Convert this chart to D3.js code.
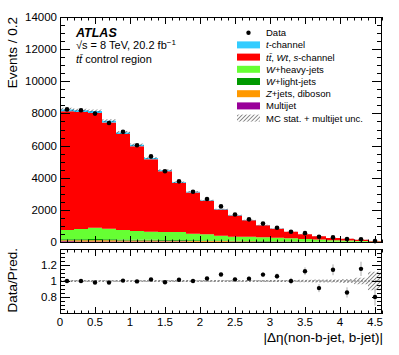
<!DOCTYPE html>
<html><head><meta charset="utf-8">
<script src="https://cdn.jsdelivr.net/npm/d3@7"></script>
<style>body{margin:0;background:#fff}svg{display:block}text{font-family:"Liberation Sans",Arial,Helvetica,sans-serif;fill:#000}</style>
</head><body><svg id="c" width="399" height="355"></svg>
<script>
// ---------------- data ----------------
const binLow = [0,0.2,0.4,0.6,0.8,1.0,1.2,1.4,1.6,1.8,2.0,2.2,2.4,2.6,2.8,3.0,3.2,3.4,3.6,3.8,4.0,4.2,4.4];
const binWidth = 0.2;
const dataCounts = [8250,8200,7990,7400,6855,6020,5325,4400,3775,3130,2680,2215,1715,1410,1145,890,640,550,328,285,180,167,56];
const tchannel  = [120,118,117,108,97,86,75,64,53,45,37,29,24,19,15,12,9,7,5,4,3,2,1];
const ttbar     = [7380,7272,7143,6612,5973,5284,4505,3786,3047,2565,2083,1626,1326,1021,755,558,401,293,205,136,117,83,39];
const wheavy    = [580,636,711,662,592,533,502,489,496,410,380,307,253,261,230,219,187,154,121,87,72,46,21];
const wlight    = [60,64,68,64,60,55,52,50,48,42,38,32,28,25,22,19,16,13,10,8,6,5,3];
const zjets     = [70,72,75,70,66,62,58,55,52,46,42,38,33,30,26,22,19,16,13,10,8,6,4];
const multijet  = [40,38,36,34,32,30,28,26,24,22,20,18,16,14,12,10,8,7,6,5,4,3,2];
const mcStatUnc = [99,98,98,91,82,73,63,54,45,38,31,25,20,16,13,10,8,7,7,5,5,6,8];
const xTickVals = [0,0.5,1,1.5,2,2.5,3,3.5,4,4.5];
const xTickLabels = ["0","0.5","1","1.5","2","2.5","3","3.5","4","4.5"];
const yTickVals = [0,2000,4000,6000,8000,10000,12000,14000];
const yTickLabels = ["0","2000","4000","6000","8000","10000","12000","14000"];
const rTickVals = [0.8,1,1.2];
const rTickLabels = ["0.8","1","1.2"];
const legendLabels = ["Data","t-channel","tt̄, Wt, s-channel","W+heavy-jets","W+light-jets","Z+jets, diboson","Multijet","MC stat. + multijet unc."];

// ---------------- layout ----------------
const L=60, R=382, MT=17, MB=242, RT=249, RB=313;
const svg = d3.select("#c");
const x = d3.scaleLinear().domain([0,4.6]).range([L,R]);
const y = d3.scaleLinear().domain([0,14000]).range([MB,MT]);
const yr = d3.scaleLinear().domain([0.6,1.4]).range([RB,RT]);

const colors = {tchannel:"#33ccff", ttbar:"#ff0000", wheavy:"#66ff33", wlight:"#009900", zjets:"#ff9900", multijet:"#990099"};
const keys = ["multijet","zjets","wlight","wheavy","ttbar","tchannel"];
const src = {multijet, zjets, wlight, wheavy, ttbar, tchannel};

const defs = svg.append("defs");
const pat = defs.append("pattern").attr("id","hatch").attr("patternUnits","userSpaceOnUse")
  .attr("width",2.8).attr("height",2.8).attr("patternTransform","rotate(45)");
pat.append("line").attr("x1",0).attr("y1",0).attr("x2",0).attr("y2",2.8).attr("stroke","#222").attr("stroke-width",1);
defs.append("clipPath").attr("id","cm").append("rect").attr("x",L).attr("y",MT).attr("width",R-L).attr("height",MB-MT);
defs.append("clipPath").attr("id","cr").append("rect").attr("x",L).attr("y",RT).attr("width",R-L).attr("height",RB-RT);

const rows = binLow.map((lo,i)=>{const r={lo}; keys.forEach(k=>r[k]=src[k][i]); return r;});
const series = d3.stack().keys(keys)(rows);
const total = rows.map(r=>d3.sum(keys,k=>r[k]));

const area = d3.area().curve(d3.curveStepAfter).x(d=>d.x).y0(d=>d.y0).y1(d=>d.y1);
function stepPts(vals0, vals1, sy){
  const pts = binLow.map((lo,i)=>({x:x(lo), y0:sy(vals0[i]), y1:sy(vals1[i])}));
  const l = pts[pts.length-1];
  pts.push({x:x(binLow[binLow.length-1]+binWidth), y0:l.y0, y1:l.y1});
  return pts;
}

const gm = svg.append("g").attr("clip-path","url(#cm)");
series.forEach(s=>{
  gm.append("path").attr("d",area(stepPts(s.map(d=>d[0]), s.map(d=>d[1]), y))).attr("fill",colors[s.key]);
});
// MC stat band on top
gm.append("path").attr("d",area(stepPts(total.map((t,i)=>t-mcStatUnc[i]), total.map((t,i)=>t+mcStatUnc[i]), y)))
  .attr("fill","url(#hatch)");

// data points main
const gd = svg.append("g");
dataCounts.forEach((n,i)=>{
  const cx = x(binLow[i]+binWidth/2), e=Math.sqrt(n);
  gd.append("line").attr("x1",cx).attr("x2",cx).attr("y1",y(n-e)).attr("y2",y(n+e)).attr("stroke","#000");
  gd.append("circle").attr("cx",cx).attr("cy",y(n)).attr("r",2.3).attr("fill","#000");
});

// ratio
const gr = svg.append("g").attr("clip-path","url(#cr)");
gr.append("path").attr("d",area(stepPts(total.map((t,i)=>1-mcStatUnc[i]/t), total.map((t,i)=>1+mcStatUnc[i]/t), yr)))
  .attr("fill","url(#hatch)");
gr.append("line").attr("x1",L).attr("x2",R).attr("y1",yr(1)).attr("y2",yr(1)).attr("stroke","#666").attr("stroke-dasharray","2,1.5");
dataCounts.forEach((n,i)=>{
  const cx = x(binLow[i]+binWidth/2), v=n/total[i], e=Math.sqrt(n)/total[i];
  gr.append("line").attr("x1",cx).attr("x2",cx).attr("y1",yr(v-e)).attr("y2",yr(v+e)).attr("stroke","#aaa");
  gr.append("circle").attr("cx",cx).attr("cy",yr(v)).attr("r",2.2).attr("fill","#000");
});

// frames and ticks
const ga = svg.append("g").attr("stroke","#000").attr("stroke-width",1).attr("fill","none");
function frame(t,b){ ga.append("rect").attr("x",L+0.5).attr("y",t+0.5).attr("width",R-L-1).attr("height",b-t-1); }
frame(MT,MB+1); frame(RT,RB+1);
function tick(x1,y1,x2,y2){ ga.append("line").attr("x1",x1).attr("y1",y1).attr("x2",x2).attr("y2",y2); }
function xTicks(t,b){
  d3.range(0,47).forEach(k=>{
    const v=k/10, px=Math.round(x(v))+0.5, maj = k%5===0, len = maj?7:3.5;
    tick(px,b,px,b-len); tick(px,t,px,t+len);
  });
}
xTicks(MT,MB+1); xTicks(RT,RB+1);
d3.range(0,29).forEach(k=>{
  const v=k*500, py=Math.round(y(v))+0.5, maj=k%4===0, len=maj?10:5;
  tick(L,py,L+len,py); tick(R,py,R-len,py);
});
d3.range(0,17).forEach(k=>{
  const v=0.6+k*0.05, py=Math.round(yr(v))+0.5, maj=k%4===0, len=maj?10:5;
  tick(L,py,L+len,py); tick(R,py,R-len,py);
});

// tick labels
const fs=11.5;
yTickVals.forEach((v,i)=>svg.append("text").attr("x",L-3).attr("y",y(v)+4).attr("text-anchor","end").attr("font-size",fs).text(yTickLabels[i]));
rTickVals.forEach((v,i)=>svg.append("text").attr("x",L-3).attr("y",yr(v)+4).attr("text-anchor","end").attr("font-size",fs).text(rTickLabels[i]));
xTickVals.forEach((v,i)=>svg.append("text").attr("x",x(v)).attr("y",326).attr("text-anchor","middle").attr("font-size",fs).text(xTickLabels[i]));

// axis titles
svg.append("text").attr("transform","translate(17,17) rotate(-90)").attr("text-anchor","end").attr("font-size",13.5).text("Events / 0.2");
svg.append("text").attr("transform","translate(17,248) rotate(-90)").attr("text-anchor","end").attr("font-size",13.5).text("Data/Pred.");
svg.append("text").attr("x",383).attr("y",342).attr("text-anchor","end").attr("font-size",13.5).text("|Δη(non-b-jet, b-jet)|");

// ATLAS label
svg.append("text").attr("x",76).attr("y",37).attr("font-size",12.5).attr("font-weight","bold").attr("font-style","italic").text("ATLAS");
const t2 = svg.append("text").attr("x",76).attr("y",49).attr("font-size",11);
t2.append("tspan").text("√s = 8 TeV, 20.2 fb");
t2.append("tspan").attr("dy",-4).attr("font-size",8).text("−1");
const t3 = svg.append("text").attr("x",76).attr("y",63).attr("font-size",11);
t3.append("tspan").attr("font-style","italic").text("tt̄");
t3.append("tspan").text(" control region");

// legend
const lx=237, lw=23, ly0=32.7, ldy=12.2, tx=266, lfs=9.5;
const legendFill = [null,"tchannel","ttbar","wheavy","wlight","zjets","multijet","hatch"];
const legendParts = [
  [["Data",0]],
  [["t",1],["-channel",0]],
  [["tt̄",1],[", ",0],["Wt",1],[", ",0],["s",1],["-channel",0]],
  [["W",1],["+heavy-jets",0]],
  [["W",1],["+light-jets",0]],
  [["Z",1],["+jets, diboson",0]],
  [["Multijet",0]],
  [["MC stat. + multijet unc.",0]]
];
legendLabels.forEach((lab,i)=>{
  const cy = ly0+i*ldy;
  const f = legendFill[i];
  if(f===null){ svg.append("circle").attr("cx",lx+lw/2).attr("cy",cy).attr("r",2.2).attr("fill","#000"); }
  else if(f==="hatch"){ svg.append("rect").attr("x",lx).attr("y",cy-3.5).attr("width",lw).attr("height",7).attr("fill","url(#hatch)"); }
  else { svg.append("rect").attr("x",lx).attr("y",cy-3.5).attr("width",lw).attr("height",7).attr("fill",colors[f]); }
  const t = svg.append("text").attr("x",tx).attr("y",cy+3.5).attr("font-size",lfs).attr("aria-label",lab);
  legendParts[i].forEach(p=>t.append("tspan").attr("font-style",p[1]?"italic":"normal").text(p[0]));
});
</script></body></html>
